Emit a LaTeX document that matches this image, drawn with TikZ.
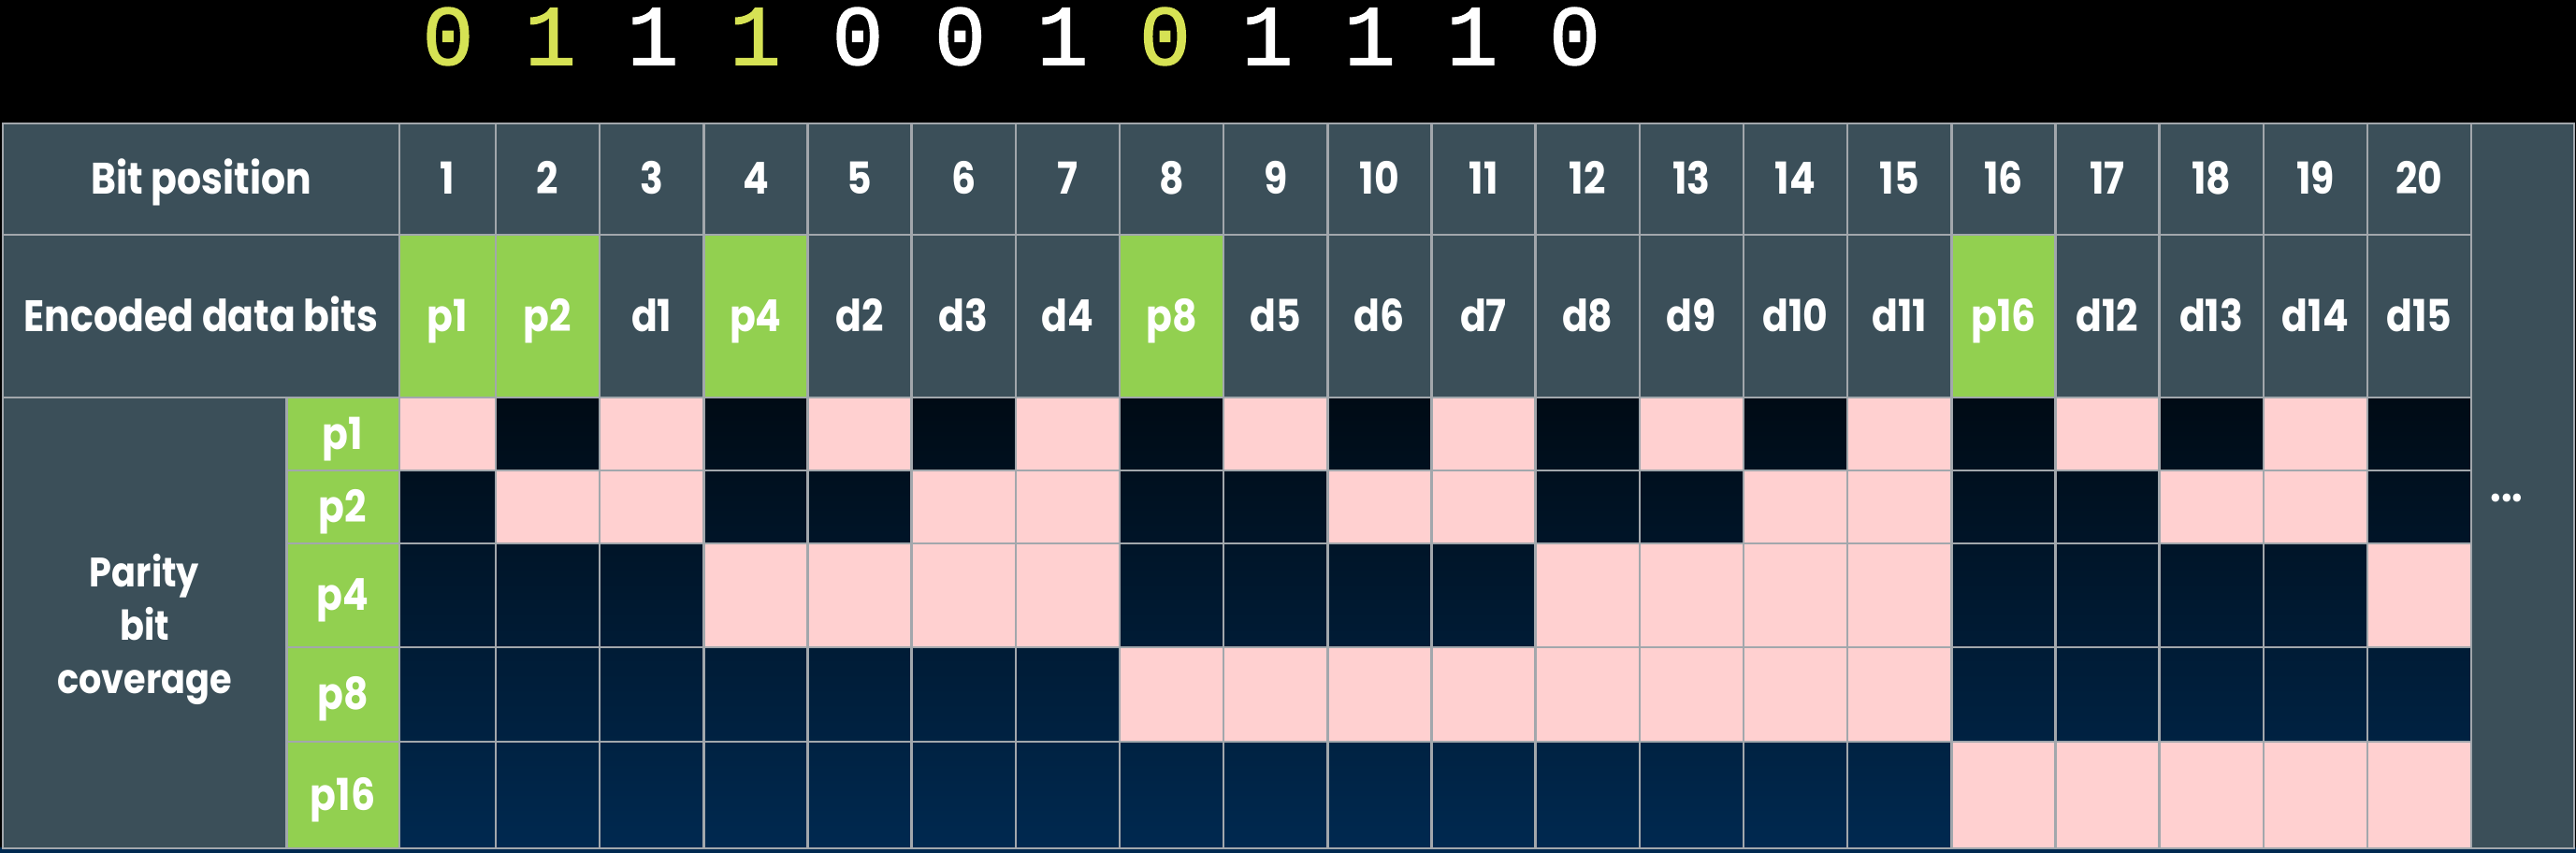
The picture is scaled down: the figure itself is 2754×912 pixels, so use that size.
\documentclass[tikz,border=0pt]{standalone}
\usepackage{fontspec}
\setmainfont{Poppins}[FakeStretch=0.87]
\newfontfamily\bitfont{Liberation Mono}[FakeBold=1.6]
\usepackage{tikz}
\usepackage{xcolor}
\definecolor{headerGray}{RGB}{59, 79, 89}
\definecolor{parityGreen}{RGB}{146, 208, 80}
\definecolor{coverPink}{RGB}{255, 208, 208}
\definecolor{gridGray}{RGB}{162, 167, 172}
\definecolor{navyTop}{RGB}{0, 11, 21}
\definecolor{navyBottom}{RGB}{0, 41, 80}
\definecolor{bitYellow}{RGB}{214, 226, 84}
% column centre and width for bit position #1
\newcommand{\colgeom}[1]{%
    \pgfmathsetmacro{\cx}{#1==1 ? 478.5 : 530+111.16*(#1-1.5)}%
    \pgfmathsetmacro{\cw}{#1==1 ? 10.3 : 11.116}%
}

\begin{document}
\begin{tikzpicture}[
    x=0.1mm, y=-0.1mm,
    % Cell styles
    cell/.style={
        rectangle,
        draw=gridGray,
        line width=0.25mm,
        inner sep=0pt,
        text=white,
        font=\fontsize{13.4}{16}\selectfont\bfseries,
        text height=9.3pt,
        text depth=0pt
    },
    headcell/.style={cell, fill=headerGray},
    paritycell/.style={cell, fill=parityGreen},
    hitcell/.style={cell, fill=coverPink},
    misscell/.style={cell},
    % Row label style
    covlabel/.style={
        rectangle,
        draw=gridGray,
        line width=0.25mm,
        fill=headerGray,
        inner sep=0pt
    },
    covtext/.style={
        text=white,
        align=center,
        inner sep=0pt,
        font=\fontsize{12.5}{16.3}\selectfont\bfseries
    },
    % Bit string style
    bit/.style={
        font=\bitfont\fontsize{26}{30}\selectfont,
        inner sep=0pt
    }
]

\useasboundingbox (0,0) rectangle (2754,912);
\fill[black] (0,0) rectangle (2754,912);
\fill[navyBottom] (0,906) rectangle (2754,912);

% ============================================
% BIT STRING
% ============================================
\foreach \b/\c [count=\i] in {0/bitYellow, 1/bitYellow, 1/white, 1/bitYellow,
    0/white, 0/white, 1/white, 0/bitYellow, 1/white, 1/white, 1/white, 0/white} {
    \node[bit, text=\c] (bit-\i) at ({479+109.5*(\i-1)}, 39) {\b};
}

% ============================================
% ROW 1: BIT POSITION
% ============================================
\node[headcell, minimum width=42.4mm, minimum height=11.9mm] (pos-label) at (215, 191.5) {Bit position};
\foreach \i in {1,...,20} {
    \colgeom{\i}
    \node[headcell, minimum width=\cw mm, minimum height=11.9mm] (pos-\i) at (\cx, 191.5) {\i};
}

% ============================================
% ROW 2: ENCODED DATA BITS
% ============================================
\node[headcell, minimum width=42.4mm, minimum height=17.4mm] (enc-label) at (215, 338) {Encoded data bits};
\foreach \lab/\sty [count=\i] in {p1/paritycell, p2/paritycell, d1/headcell, p4/paritycell,
    d2/headcell, d3/headcell, d4/headcell, p8/paritycell, d5/headcell, d6/headcell,
    d7/headcell, d8/headcell, d9/headcell, d10/headcell, d11/headcell, p16/paritycell,
    d12/headcell, d13/headcell, d14/headcell, d15/headcell} {
    \colgeom{\i}
    \node[\sty, minimum width=\cw mm, minimum height=17.4mm] (enc-\i) at (\cx, 338) {\lab};
}

% ============================================
% PARITY BIT COVERAGE
% ============================================
\shade[top color=navyTop, bottom color=navyBottom] (427,425) rectangle (2642,907);
\node[covlabel, minimum width=30.3mm, minimum height=48.2mm] (cover-label) at (154.5, 666) {};
\node[covtext] (cover-text) at (154.5, 673) {Parity\\bit\\coverage};

\foreach \k/\yc/\h in {1/464/7.8mm, 2/542/7.8mm, 4/636.5/11.1mm, 8/742.5/10.1mm, 16/850/11.4mm} {
    \node[paritycell, minimum width=12.05mm, minimum height=\h] (par-\k) at (366.5, \yc) {p\k};
    \foreach \i in {1,...,20} {
        \colgeom{\i}
        \pgfmathtruncatemacro{\hit}{mod(floor(\i/\k),2)}
        \ifnum\hit=1
            \node[hitcell, minimum width=\cw mm, minimum height=\h] (cov-\k-\i) at (\cx, \yc) {};
        \else
            \node[misscell, minimum width=\cw mm, minimum height=\h] (cov-\k-\i) at (\cx, \yc) {};
        \fi
    }
}

% ============================================
% MORE COLUMNS
% ============================================
\node[headcell, minimum width=11mm, minimum height=77.5mm] (more) at (2697, 519.5) {};
\node[text=white, inner sep=0pt, font=\fontsize{13.4}{16}\selectfont\bfseries] (more-dots) at (2680, 532) {...};

\end{tikzpicture}
\end{document}
